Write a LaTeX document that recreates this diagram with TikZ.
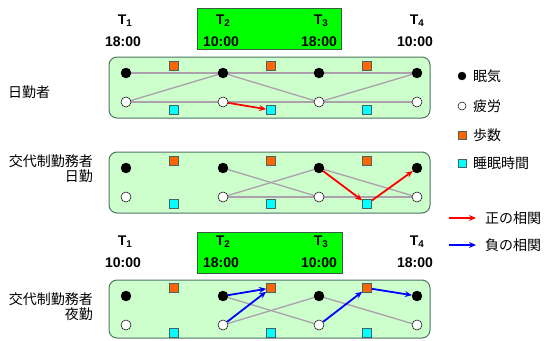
\documentclass[tikz,border=0pt]{standalone}
\usepackage{fontspec}
\setmainfont{Liberation Sans}
\newfontfamily\jp{Noto Sans CJK JP}
\usetikzlibrary{arrows.meta}
\definecolor{panelfill}{RGB}{204,255,204}
\definecolor{panelline}{RGB}{80,115,100}
\definecolor{hdrgreen}{RGB}{0,255,0}
\definecolor{hdrline}{RGB}{60,90,70}
\definecolor{orsq}{RGB}{255,102,0}
\definecolor{cysq}{RGB}{0,255,255}
\definecolor{sqline}{RGB}{70,100,100}
\definecolor{linkgray}{RGB}{172,160,172}
\tikzset{
  panel/.style={draw=panelline,fill=panelfill,line width=1pt,rounded corners=8pt},
  hdr/.style={draw=hdrline,fill=hdrgreen,line width=0.8pt},
  sleepy/.style={circle,draw=black,fill=black,minimum size=10pt,inner sep=0pt},
  tired/.style={circle,draw=black,fill=white,line width=0.5pt,minimum size=10pt,inner sep=0pt},
  steps/.style={rectangle,draw=sqline,fill=orsq,line width=0.7pt,minimum size=9pt,inner sep=0pt},
  sleeph/.style={rectangle,draw=sqline,fill=cysq,line width=0.7pt,minimum size=9pt,inner sep=0pt},
  lsleepy/.style={circle,draw=black,fill=black,minimum size=8pt,inner sep=0pt},
  ltired/.style={circle,draw=black,fill=white,line width=0.5pt,minimum size=8pt,inner sep=0pt},
  lsteps/.style={rectangle,draw=sqline,fill=orsq,line width=0.7pt,minimum size=8pt,inner sep=0pt},
  lsleeph/.style={rectangle,draw=sqline,fill=cysq,line width=0.7pt,minimum size=8pt,inner sep=0pt},
  link/.style={draw=linkgray,line width=1.3pt},
  poscorr/.style={draw=red,line width=1.8pt,-{Stealth[length=7pt,width=6pt]}},
  negcorr/.style={draw=blue,line width=1.8pt,-{Stealth[length=7pt,width=6pt]}},
  tlab/.style={font=\fontsize{14}{16}\selectfont\bfseries,inner sep=0pt},
  timelab/.style={font=\fontsize{14}{16}\selectfont\bfseries,inner sep=0pt},
  jplab/.style={font=\jp\fontsize{14}{14.5}\selectfont,inner sep=0pt},
}
\begin{document}
\begin{tikzpicture}[x=1pt,y=-1pt]
\useasboundingbox (0,0) rectangle (545,340);
% headers
\path[hdr] (197,8) rectangle (341,49);
\path[hdr] (197,232) rectangle (342,273);
\foreach \i/\x/\ta/\tb in {1/125/18:00/10:00,2/223/10:00/18:00,3/321/18:00/10:00,4/417/10:00/18:00}{
  \node[tlab] (ta\i) at (\x,21) {T$_{\mathbf{\i}}$};
  \node[timelab] (ha\i) at (\x-2,42) {\ta};
  \node[tlab] (tb\i) at (\x,242) {T$_{\mathbf{\i}}$};
  \node[timelab] (hb\i) at (\x-2,263) {\tb};
}
% panels
\path[panel] (109,57) rectangle (430,118);
\path[panel] (109,152) rectangle (430,213);
\path[panel] (109,280) rectangle (430,338);
% nodes
\foreach \p/\yt/\yb/\yo/\yc in {a/73/102/66/110,b/168/197/161/204,c/296/325/288/333}{
  \foreach \i/\x in {1/126,2/223,3/319,4/417}{
    \coordinate (\p t\i c) at (\x,\yt);
    \coordinate (\p b\i c) at (\x,\yb);
  }
  \foreach \i/\x in {1/174,2/271,3/367}{
    \coordinate (\p o\i c) at (\x,\yo);
    \coordinate (\p s\i c) at (\x,\yc);
  }
}
% links panel 1
\draw[link] (at1c) -- (at4c);
\draw[link] (ab1c) -- (ab4c);
\draw[link] (ab1c) -- (at2c) -- (ab3c) -- (at4c);
% links panel 2
\draw[link] (bt2c) -- (bb3c);
\draw[link] (bb2c) -- (bt3c);
\draw[link] (bb2c) -- (bb4c);
\draw[link] (bt3c) -- (bb4c);
% links panel 3
\draw[link] (ct2c) -- (cb3c);
\draw[link] (cb2c) -- (ct3c);
\draw[link] (ct3c) -- (cb4c);
% node shapes
\foreach \p in {a,b,c}{
  \foreach \i in {1,2,3,4}{
    \node[sleepy] (\p t\i) at (\p t\i c) {};
    \node[tired] (\p b\i) at (\p b\i c) {};
  }
  \foreach \i in {1,2,3}{
    \node[steps] (\p o\i) at (\p o\i c) {};
    \node[sleeph] (\p s\i) at (\p s\i c) {};
  }
}
% correlations
\draw[poscorr] (ab2) -- (as2);
\draw[poscorr] (bt3) -- (bs3);
\draw[poscorr] (bs3) -- (bt4);
\draw[negcorr] (ct2) -- (co2);
\draw[negcorr] (cb2) -- (co2);
\draw[negcorr] (cb3) -- (co3);
\draw[negcorr] (co3) -- (ct4);
% left labels
\node[jplab,anchor=west] (g1) at (8,92) {日勤者};
\node[jplab,anchor=east,align=right] (g2) at (93,168.5) {交代制勤務者\\日勤};
\node[jplab,anchor=east,align=right] (g3) at (93,306.5) {交代制勤務者\\夜勤};
% legend
\node[lsleepy] (l1) at (462,76) {};
\node[jplab,anchor=west] (l1t) at (473,76) {眠気};
\node[ltired] (l2) at (462,106) {};
\node[jplab,anchor=west] (l2t) at (473,106) {疲労};
\node[lsteps] (l3) at (462,135) {};
\node[jplab,anchor=west] (l3t) at (473,135) {歩数};
\node[lsleeph] (l4) at (462,163) {};
\node[jplab,anchor=west] (l4t) at (473,163) {睡眠時間};
\coordinate (r0) at (449,218);
\coordinate (r1) at (476,218);
\draw[poscorr] (r0) -- (r1);
\node[jplab,anchor=west] (l5t) at (485,218) {正の相関};
\coordinate (b0) at (449,245);
\coordinate (b1) at (476,245);
\draw[negcorr] (b0) -- (b1);
\node[jplab,anchor=west] (l6t) at (485,245) {負の相関};
\end{tikzpicture}
\end{document}
